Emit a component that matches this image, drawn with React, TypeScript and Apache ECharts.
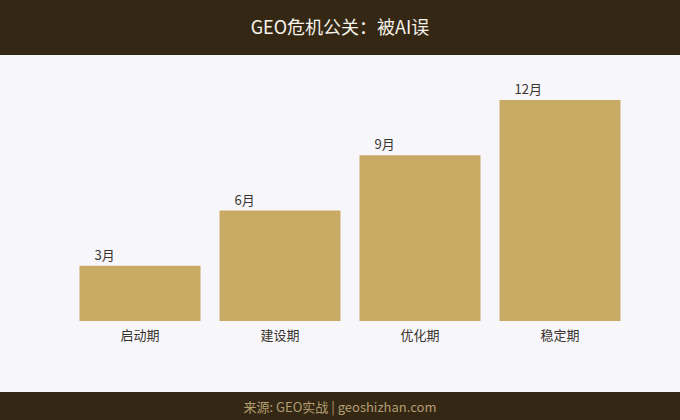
import React, { useEffect, useRef } from "react";
import * as echarts from "echarts";

const categories = ["启动期", "建设期", "优化期", "稳定期"];
const values = [3, 6, 9, 12];
const labels = ["3月", "6月", "9月", "12月"];
const titleText = "GEO危机公关：被AI误";
const footerText = "来源: GEO实战 | geoshizhan.com";

const FONT = "'Noto Sans CJK SC', 'Noto Sans', sans-serif";

export default function App() {
  const ref = useRef<HTMLDivElement>(null);
  useEffect(() => {
    if (!ref.current) return;
    const chart = echarts.init(ref.current, null, { renderer: "svg" });
    chart.setOption({
      animation: false,
      backgroundColor: "#f6f6fb",
      textStyle: { fontFamily: FONT },
      grid: { left: 70, right: 50, top: 100, bottom: 99 },
      xAxis: {
        type: "category",
        data: categories,
        axisLine: { show: false },
        axisTick: { show: false },
        axisLabel: { color: "#3a342c", fontSize: 13, margin: 7, fontFamily: FONT },
      },
      yAxis: {
        type: "value",
        min: 0,
        max: 12,
        show: false,
        splitLine: { show: false },
      },
      series: [
        {
          type: "bar",
          data: values,
          barWidth: 121,
          itemStyle: { color: "#c9aa64" },
          label: {
            show: true,
            position: [15, -18],
            formatter: (p: any) => labels[p.dataIndex],
            color: "#3a342c",
            fontSize: 13,
            fontFamily: FONT,
          },
        },
      ],
      graphic: [
        {
          type: "rect",
          left: 0,
          top: 0,
          shape: { width: 680, height: 55 },
          style: { fill: "#342815" },
        },
        {
          type: "text",
          left: "center",
          top: 17,
          style: {
            text: titleText,
            fill: "#f7f3ea",
            fontSize: 18,
            fontFamily: FONT,
          },
        },
        {
          type: "rect",
          left: 0,
          top: 392,
          shape: { width: 680, height: 28 },
          style: { fill: "#342815" },
        },
        {
          type: "text",
          left: "center",
          top: 400,
          style: {
            text: footerText,
            fill: "#b39d70",
            fontSize: 13,
            fontFamily: FONT,
          },
        },
      ],
    });
    return () => chart.dispose();
  }, []);
  return (
    <div
      ref={ref}
      style={{ position: "fixed", left: 0, top: 0, width: 680, height: 420 }}
    />
  );
}
